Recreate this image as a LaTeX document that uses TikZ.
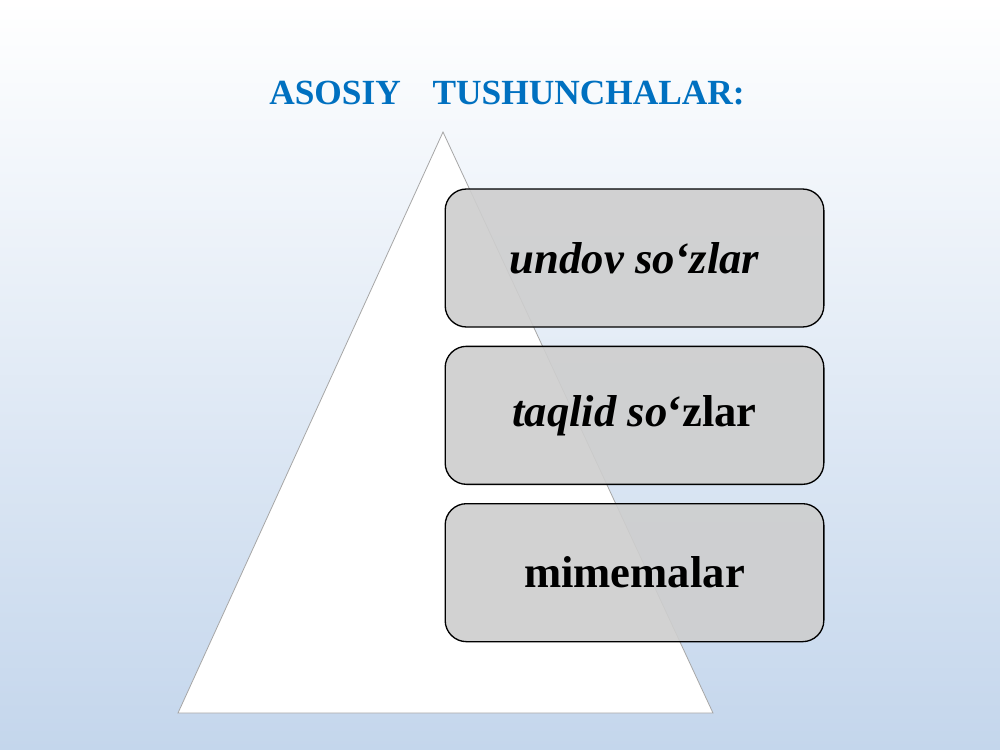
\documentclass[tikz,border=0pt]{standalone}
\usepackage{fontspec}
\setmainfont{Liberation Serif}
\usetikzlibrary{positioning}
\definecolor{titleblue}{RGB}{0,112,192}
\definecolor{bgblue}{RGB}{196,214,236}
\definecolor{boxgray}{RGB}{206,206,206}

\begin{document}
\begin{tikzpicture}[x=0.75pt, y=-0.75pt, node distance=13.5pt,
    box/.style={draw=black, line width=1pt, rounded corners=16pt,
        fill=boxgray, fill opacity=0.9, text opacity=1,
        minimum width=284pt, minimum height=103.5pt,
        font=\fontsize{33.5}{40}\selectfont\bfseries\itshape}]

    % fon va piramida
    \shade[top color=white, bottom color=bgblue] (0,0) rectangle (1000,750);
    \draw[fill=white, draw=gray!70, line width=0.6pt] (443,132) -- (713,713) -- (178,713) -- cycle;

    % sarlavha
    \node[text=titleblue, font=\fontsize{26.5}{32}\selectfont\bfseries] (title) at (507,93) {ASOSIY\hspace{0.9em}TUSHUNCHALAR:};

    % bloklar
    \node[box] (undov) at (634.5,258) {undov so‘zlar};
    \node[box] (taqlid) [below=of undov] {taqlid so\upshape‘zlar};
    \node[box] (mimema) [below=of taqlid] {\upshape mimemalar};

\end{tikzpicture}
\end{document}
